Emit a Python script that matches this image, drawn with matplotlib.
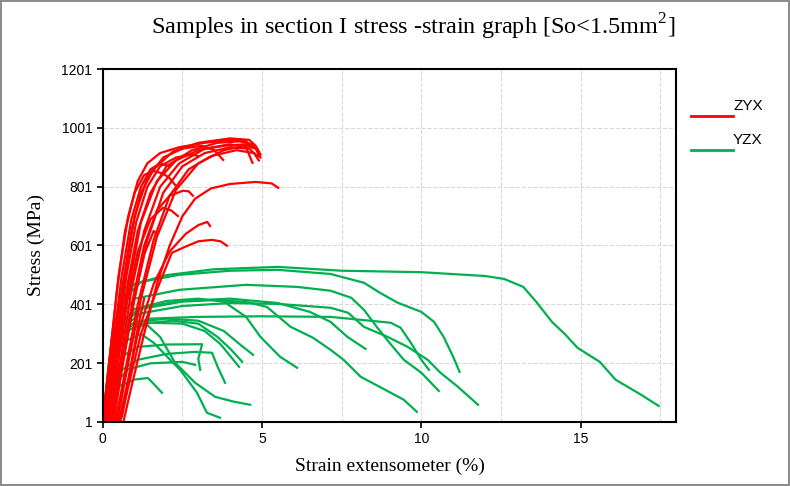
import matplotlib
matplotlib.use('Agg')
import matplotlib.pyplot as plt
from matplotlib.lines import Line2D
from matplotlib.ticker import MultipleLocator

# ZYX samples (red) - strain %, stress MPa
zyx_strain = [
    [0.05, 0.3, 0.6, 0.9, 1.2, 1.6, 2.2, 3.0, 4.0, 4.6, 4.8, 4.95],
    [0.15, 0.45, 0.8, 1.1, 1.5, 2.0, 2.8, 3.6, 4.3, 4.7, 4.9],
    [0.25, 0.55, 0.9, 1.3, 1.8, 2.4, 3.2, 4.0, 4.5, 4.7],
    [0.1, 0.35, 0.7, 1.0, 1.4, 1.9, 2.5, 3.1, 3.5, 3.78],
    [0.2, 0.5, 0.85, 1.2, 1.7, 2.3, 3.0, 3.8, 4.5, 4.85, 4.9],
    [0.0, 0.25, 0.5, 0.8, 1.1, 1.4, 1.8, 2.4, 3.2, 4.0, 4.5, 4.7],
    [0.3, 0.6, 1.0, 1.4, 1.9, 2.5, 3.2, 4.0, 4.6, 4.85],
    [0.4, 0.7, 1.1, 1.6, 2.1, 2.7, 3.4, 4.2, 4.75, 4.9],
    [0.45, 0.8, 1.2, 1.7, 2.3, 3.0, 3.8, 4.5, 4.8, 4.95],
    [0.0, 0.2, 0.45, 0.7, 1.0, 1.3, 1.57, 1.9, 2.1, 2.27],
    [0.3, 0.6, 0.95, 1.3, 1.7, 2.1, 2.52, 2.7, 2.83],
    [0.2, 0.45, 0.75, 1.1, 1.5, 1.89, 2.15, 2.36],
    [0.35, 0.6, 0.95, 1.3, 1.6, 1.7],
    [0.5, 0.75, 1.1, 1.6, 2.1, 2.6, 3.0, 3.28, 3.37],
    [0.55, 0.8, 1.2, 1.7, 2.17, 2.58, 3.0, 3.43, 3.7, 3.9],
    [0.65, 0.9, 1.3, 1.7, 2.1, 2.5, 2.9, 3.4, 4.0, 4.8, 5.3, 5.51],
    [0.12, 0.4, 0.75, 1.05, 1.4, 1.8, 2.3, 2.8, 3.0],
    [0.05, 0.3, 0.6, 0.9, 1.2, 1.5, 1.8, 2.1],
    [0.6, 0.75, 0.9, 1.1, 1.3],
]
zyx_stress = [
    [1, 200, 450, 650, 780, 860, 920, 950, 965, 960, 940, 910],
    [1, 230, 480, 650, 780, 870, 925, 950, 955, 945, 920],
    [1, 200, 450, 650, 800, 880, 930, 945, 935, 882],
    [1, 200, 500, 700, 830, 900, 930, 940, 925, 892],
    [1, 220, 480, 680, 820, 890, 925, 940, 945, 930, 905],
    [1, 250, 500, 700, 820, 880, 915, 935, 950, 960, 955, 935],
    [1, 180, 420, 620, 780, 870, 915, 935, 930, 905],
    [1, 170, 400, 620, 770, 860, 905, 925, 915, 890],
    [1, 200, 420, 630, 790, 880, 925, 940, 930, 900],
    [1, 200, 450, 650, 780, 840, 855, 845, 830, 807],
    [1, 200, 420, 600, 720, 770, 787, 785, 770],
    [1, 180, 400, 580, 690, 729, 720, 701],
    [1, 180, 400, 570, 650, 640],
    [1, 120, 300, 470, 580, 640, 670, 681, 667],
    [1, 120, 300, 450, 576, 596, 615, 620, 615, 600],
    [1, 120, 300, 470, 600, 700, 760, 795, 810, 817, 812, 797],
    [1, 220, 500, 680, 800, 870, 900, 910, 905],
    [1, 240, 500, 690, 800, 860, 880, 870],
    [18, 100, 200, 320, 420],
]

# YZX samples (green)
yzx_strain = [
    [0.0, 0.15, 0.3, 0.6, 1.0, 2.0, 3.5, 5.5, 7.5, 10.0, 12.0, 12.6, 13.2, 13.6, 14.1, 14.5, 14.9, 15.6, 16.1, 16.9, 17.45],
    [0.0, 0.2, 0.5, 1.2, 2.4, 4.0, 5.5, 7.15, 8.2, 8.7, 9.26, 10.0, 10.4, 10.7, 11.0, 11.2],
    [0.0, 0.2, 0.5, 1.0, 2.4, 4.5, 6.1, 7.15, 7.8, 8.2, 8.6, 9.0, 9.45, 10.0, 10.55],
    [0.0, 0.25, 0.6, 1.2, 2.5, 4.0, 5.5, 7.15, 7.7, 8.2, 8.94, 9.57, 10.2, 10.6, 11.15, 11.78],
    [0.0, 0.3, 0.8, 1.5, 3.0, 5.0, 7.15, 9.04, 9.35, 9.67, 10.0, 10.24],
    [0.0, 0.25, 0.6, 1.2, 2.5, 4.0, 5.5, 6.5, 7.15, 7.68, 8.25],
    [0.0, 0.25, 0.6, 1.2, 2.5, 3.5, 4.5, 5.15, 5.9, 6.6, 7.15, 7.56, 8.1, 9.04, 9.45, 9.86],
    [0.0, 0.2, 0.5, 1.0, 2.0, 3.0, 3.8, 4.5, 4.95, 5.57, 6.1],
    [0.0, 0.2, 0.5, 1.0, 2.0, 3.0, 3.8, 4.3, 4.72],
    [0.0, 0.25, 0.6, 1.2, 2.2, 3.0, 3.6, 4.0, 4.38],
    [0.0, 0.3, 0.7, 1.5, 2.5, 3.2, 3.7, 4.28],
    [0.0, 0.2, 0.5, 1.0, 1.4, 1.8, 2.27, 2.9, 3.53, 4.1, 4.63],
    [0.0, 0.25, 0.6, 1.2, 1.6, 2.0, 2.43, 2.96, 3.27, 3.68],
    [0.0, 0.2, 0.5, 1.1, 2.0, 2.9, 3.43, 3.6, 3.84],
    [0.0, 0.3, 0.7, 1.1, 2.0, 3.12, 3.0, 3.06],
    [0.0, 0.3, 0.8, 1.5, 2.5, 2.9],
    [0.0, 0.2, 0.47, 1.0, 1.42, 1.6, 1.86],
]
yzx_stress = [
    [1, 150, 300, 420, 470, 500, 520, 528, 515, 510, 497, 487, 460, 410, 341, 300, 253, 205, 144, 93, 55],
    [1, 200, 400, 477, 501, 515, 518, 504, 474, 440, 406, 375, 341, 290, 222, 171],
    [1, 150, 350, 420, 450, 467, 460, 447, 423, 382, 324, 270, 212, 168, 106],
    [1, 190, 320, 370, 395, 405, 402, 389, 372, 324, 290, 256, 212, 168, 120, 59],
    [1, 250, 330, 352, 358, 360, 358, 338, 321, 270, 212, 178],
    [1, 200, 340, 390, 412, 420, 405, 375, 341, 290, 249],
    [1, 200, 330, 385, 410, 415, 409, 392, 324, 287, 246, 212, 154, 100, 76, 35],
    [1, 180, 330, 385, 412, 420, 410, 358, 290, 222, 185],
    [1, 170, 300, 340, 352, 345, 310, 265, 229],
    [1, 180, 300, 335, 345, 335, 290, 250, 205],
    [1, 200, 310, 338, 335, 310, 265, 188],
    [1, 160, 300, 335, 330, 290, 202, 134, 86, 70, 59],
    [1, 170, 270, 300, 270, 225, 178, 100, 32, 15],
    [1, 100, 170, 212, 232, 239, 236, 190, 134],
    [1, 150, 230, 256, 264, 265, 215, 178],
    [1, 120, 180, 200, 205, 195],
    [1, 60, 120, 145, 150, 130, 100],
]

plt.rcParams['font.family'] = ['Liberation Sans', 'DejaVu Sans']
plt.rcParams['mathtext.fontset'] = 'custom'
plt.rcParams['mathtext.rm'] = 'Liberation Serif'

fig = plt.figure(figsize=(7.9, 4.86), dpi=100)
fig.patch.set_edgecolor('#8c8c8c')
fig.patch.set_linewidth(1.5)
ax = fig.add_axes([0.130, 0.132, 0.726, 0.726])

for xs, ys in zip(yzx_strain, yzx_stress):
    ax.plot(xs, ys, color='#00b050', lw=1.6)
for xs, ys in zip(zyx_strain, zyx_stress):
    ax.plot(xs, ys, color='#ff0000', lw=1.6)

ax.set_xlim(0, 18)
ax.set_ylim(1, 1201)
ax.xaxis.set_major_locator(MultipleLocator(5))
ax.xaxis.set_minor_locator(MultipleLocator(2.5))
ax.set_yticks(range(1, 1202, 200))
ax.tick_params(axis='both', which='major', direction='out', length=4, width=1.2, labelsize=10)
ax.tick_params(axis='x', which='minor', length=0)
ax.grid(axis='x', which='both', color='#d9d9d9', linestyle='--', lw=0.8)
ax.grid(axis='y', which='major', color='#d9d9d9', linestyle='--', lw=0.8)
ax.set_axisbelow(True)
for s in ax.spines.values():
    s.set_linewidth(1.5)
    s.set_color('black')

serif = ['Liberation Serif', 'DejaVu Serif']
ax.set_xlabel('Strain extensometer (%)', family=serif, fontsize=14, labelpad=8)
ax.set_ylabel('Stress (MPa)', family=serif, fontsize=14, labelpad=12)
fig.text(0.523, 0.944, r'Samples in section I stress -strain graph [So<1.5mm$^2$]',
         family=serif, fontsize=17.5, ha='center', va='center')

# legend drawn by hand: text sits above the line end
fig.add_artist(Line2D([691/790, 733/790], [1-116/486, 1-116/486], color='#ff0000', lw=2))
fig.add_artist(Line2D([691/790, 733/790], [1-150/486, 1-150/486], color='#00b050', lw=2))
fig.text(733/790, 1-106/486, 'ZYX', fontsize=11, va='center', ha='left')
fig.text(733/790, 1-140/486, 'YZX', fontsize=11, va='center', ha='left')

plt.savefig('out.png', dpi=100)
